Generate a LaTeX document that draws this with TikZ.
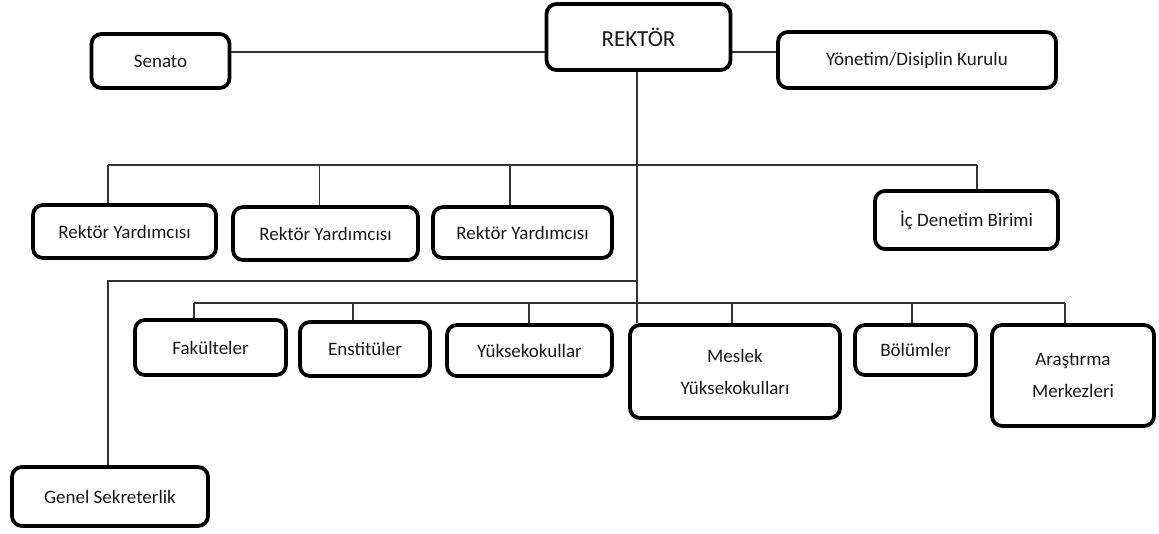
\documentclass[tikz,border=0pt]{standalone}
\usepackage{fontspec}
\setmainfont{Carlito}
\begin{document}
\begin{tikzpicture}[x=1pt,y=1pt,
  box/.style={draw=black, line width=3.8pt, rounded corners=10pt, fill=white,
    inner sep=0pt, align=center, text=black!90,
    font=\fontsize{19}{32}\selectfont},
  conn/.style={draw=black!80, line width=1.4pt}]
\fill[white] (0,0) rectangle (1159,-534);
\useasboundingbox (0,0) rectangle (1159,-534);

% nodes
\node[box, minimum width=138, minimum height=54] (senato) at (160.5,-61) {Senato};
\node[box, minimum width=184, minimum height=66, font=\fontsize{23}{28}\selectfont] (rektor) at (638.5,-37) {REKTÖR};
\node[box, minimum width=278, minimum height=56] (yonetim) at (917,-60) {Yönetim/Disiplin Kurulu};

\node[box, minimum width=183, minimum height=53] (ry1) at (124.5,-231.5) {Rektör Yardımcısı};
\node[box, minimum width=185, minimum height=53] (ry2) at (325.5,-233.5) {Rektör Yardımcısı};
\node[box, minimum width=179, minimum height=51] (ry3) at (522.5,-232.5) {Rektör Yardımcısı};
\node[box, minimum width=183, minimum height=58] (ic) at (966.5,-220) {İç Denetim Birimi};

\node[box, minimum width=151, minimum height=55] (fak) at (210.5,-347.5) {Fakülteler};
\node[box, minimum width=130, minimum height=54] (enst) at (365,-349) {Enstitüler};
\node[box, minimum width=165, minimum height=51] (yuk) at (529.5,-350.5) {Yüksekokullar};
\node[box, minimum width=210, minimum height=93] (meslek) at (735,-371.5) {Meslek\\Yüksekokulları};
\node[box, minimum width=121, minimum height=50] (bolum) at (915.5,-350) {Bölümler};
\node[box, minimum width=162, minimum height=101] (arast) at (1073,-375.5) {Araştırma\\Merkezleri};

\node[box, minimum width=196, minimum height=59] (genel) at (110,-496.5) {Genel Sekreterlik};

% helper coordinates
\coordinate (top) at (0,-52);
\coordinate (main) at (637,0);
\coordinate (b1) at (0,-165);
\coordinate (gs) at (0,-281);
\coordinate (b2) at (0,-303);
\coordinate (t1) at (108,0);
\coordinate (t2) at (319.5,0);
\coordinate (t3) at (510,0);
\coordinate (t4) at (977,0);
\coordinate (u1) at (194,0);
\coordinate (u2) at (353,0);
\coordinate (u3) at (529,0);
\coordinate (u4) at (732,0);
\coordinate (u5) at (912,0);
\coordinate (u6) at (1065,0);

% connectors
\draw[conn] (senato.east |- top) -- (rektor.west |- top);
\draw[conn] (rektor.east |- top) -- (yonetim.west |- top);
\draw[conn] (rektor.south -| main) -- (meslek.north -| main);

\draw[conn] (t1 |- b1) -- (t4 |- b1);
\draw[conn] (t1 |- b1) -- (ry1.north -| t1);
\draw[conn] (t2 |- b1) -- (ry2.north -| t2);
\draw[conn] (t3 |- b1) -- (ry3.north -| t3);
\draw[conn] (t4 |- b1) -- (ic.north -| t4);

\draw[conn] (main |- gs) -- (t1 |- gs) -- (genel.north -| t1);

\draw[conn] (u1 |- b2) -- (u6 |- b2);
\draw[conn] (u1 |- b2) -- (fak.north -| u1);
\draw[conn] (u2 |- b2) -- (enst.north -| u2);
\draw[conn] (u3 |- b2) -- (yuk.north -| u3);
\draw[conn] (u4 |- b2) -- (meslek.north -| u4);
\draw[conn] (u5 |- b2) -- (bolum.north -| u5);
\draw[conn] (u6 |- b2) -- (arast.north -| u6);
\end{tikzpicture}
\end{document}
